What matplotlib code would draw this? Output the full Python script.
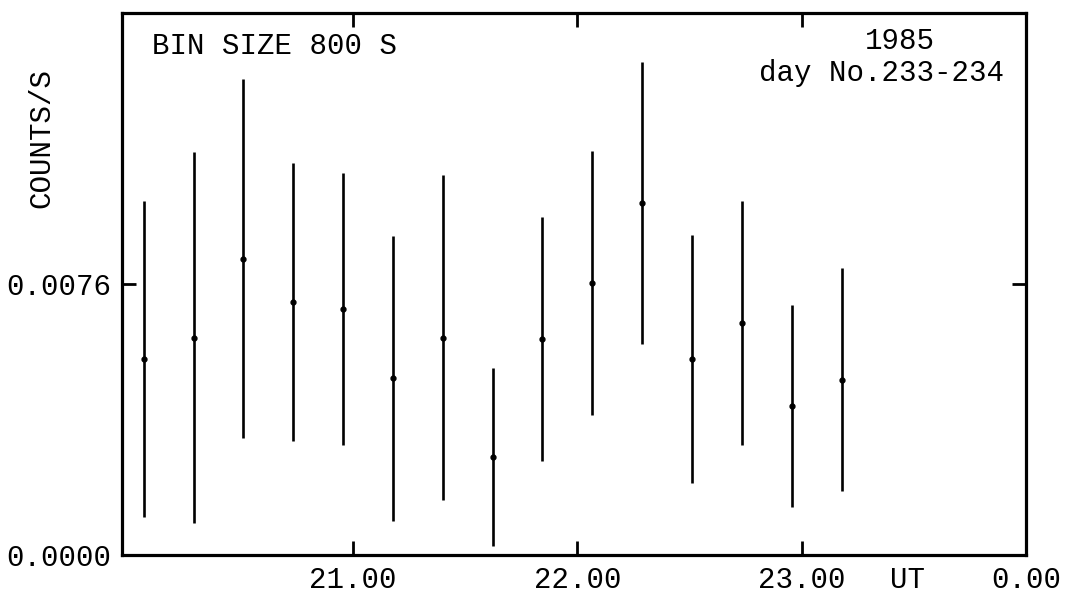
import matplotlib
matplotlib.use("Agg")
import matplotlib.pyplot as plt

# light curve, 800 s bins, UT hours
time_ut = [20.067, 20.289, 20.511, 20.733, 20.956, 21.178, 21.400, 21.622,
           21.844, 22.067, 22.289, 22.511, 22.733, 22.956, 23.178]
rate = [0.00550, 0.00610, 0.00831, 0.00709, 0.00690, 0.00496, 0.00610, 0.00275,
        0.00606, 0.00763, 0.00987, 0.00550, 0.00652, 0.00418, 0.00492]
rate_err = [0.00442, 0.00520, 0.00503, 0.00390, 0.00381, 0.00399, 0.00455, 0.00249,
            0.00342, 0.00371, 0.00395, 0.00347, 0.00342, 0.00283, 0.00312]

x_ticks = [21, 22, 23, 24]
x_tick_labels = ["21.00", "22.00", "23.00", "0.00"]
y_ticks = [0.0, 0.0076]
y_tick_labels = ["0.0000", "0.0076"]

FONT = ["Liberation Mono", "DejaVu Sans Mono"]
plt.rcParams["font.family"] = FONT
FS = 21

fig = plt.figure(figsize=(10.71, 5.95), dpi=100)
ax = fig.add_axes([0.1139, 0.067, 0.844, 0.911])

ax.errorbar(time_ut, rate, yerr=rate_err, fmt="o", color="black",
            markersize=3.5, elinewidth=1.9, capsize=0)

ax.set_xlim(19.97, 24.0)
ax.set_ylim(0, 0.0152)

ax.set_xticks(x_ticks)
ax.set_xticklabels(x_tick_labels, fontsize=FS)
ax.set_yticks(y_ticks)
ax.set_yticklabels(y_tick_labels, fontsize=FS)
ax.tick_params(axis="both", direction="in", length=10, width=2,
               top=True, right=True, pad=8, color="black")

for s in ax.spines.values():
    s.set_linewidth(2.3)

ax.annotate("UT", xy=(23.47, 0), xycoords=("data", "axes fraction"),
            xytext=(0, -8), textcoords="offset points",
            ha="center", va="top", fontsize=FS)

ax.text(0.033, 0.939, "BIN SIZE 800 S", transform=ax.transAxes,
        ha="left", va="center", fontsize=FS)
ax.text(0.861, 0.948, "1985", transform=ax.transAxes,
        ha="center", va="center", fontsize=FS)
ax.text(0.840, 0.889, "day No.233-234", transform=ax.transAxes,
        ha="center", va="center", fontsize=FS)

fig.text(0.039, 0.768, "COUNTS/S", rotation=90, ha="center", va="center",
         fontsize=FS)

fig.savefig("out.png", dpi=100, facecolor="white")
